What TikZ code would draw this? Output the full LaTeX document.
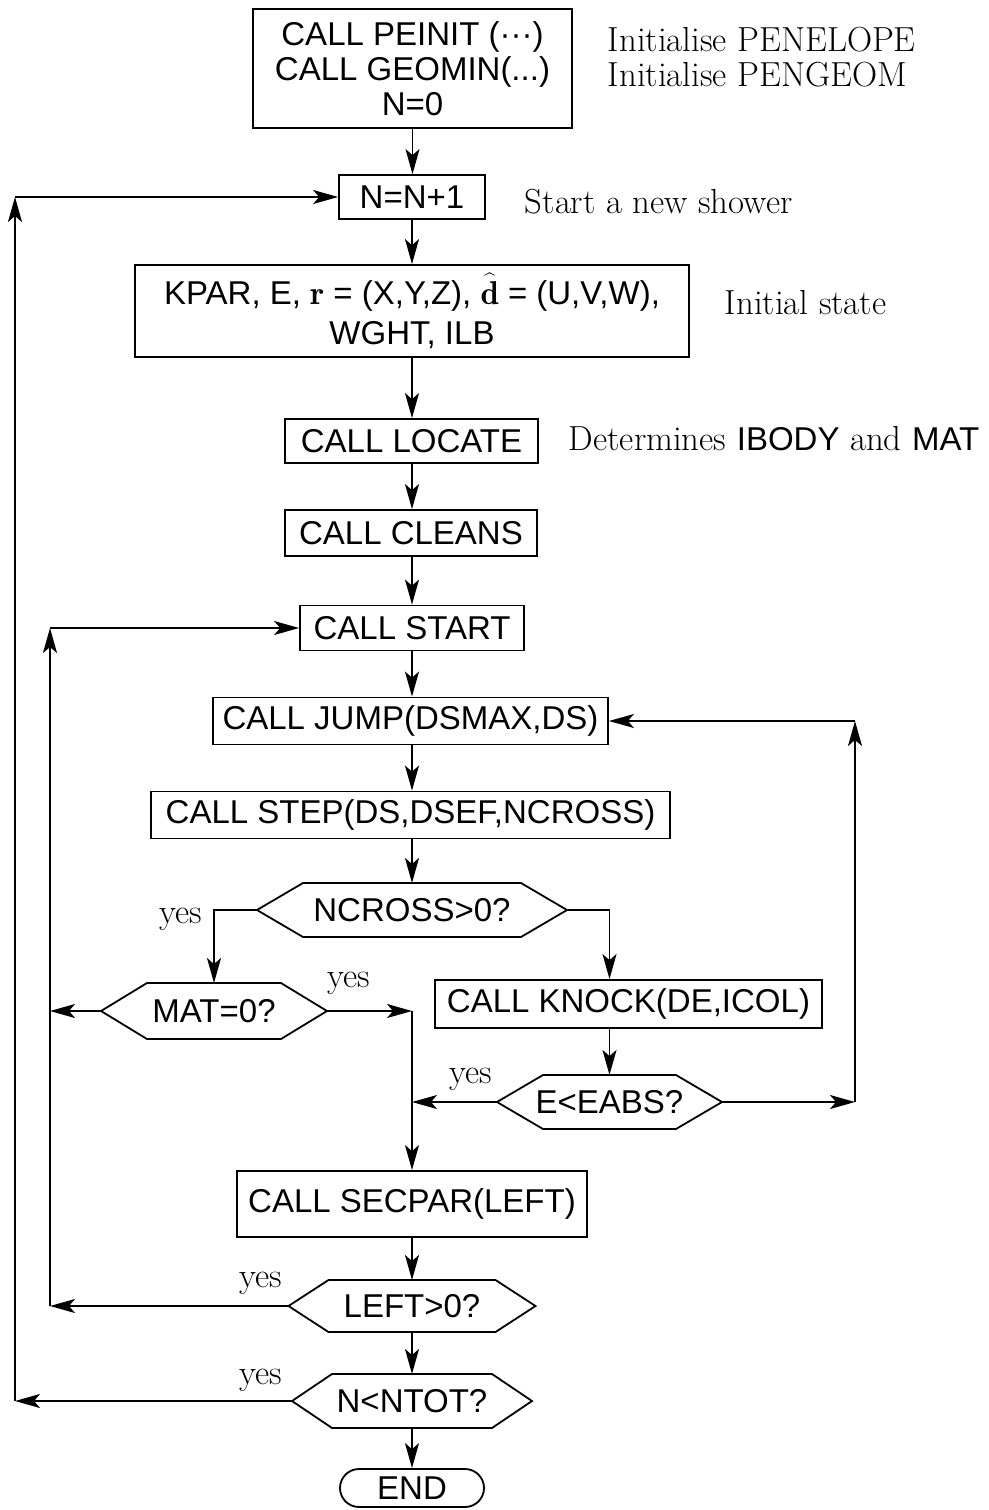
\documentclass[tikz,border=0pt]{standalone}
\usepackage{fontspec}
\newfontfamily\arialf{Liberation Sans}
\usetikzlibrary{arrows.meta,calc}
\newcommand\hexnode[6]{%
  \node[hextext] (#1) at (#2) {#6};
  \draw ($(#1)+(-#3,0)$) -- ($(#1)+(-#3+#5,-#4)$) -- ($(#1)+(#3-#5,-#4)$) --
        ($(#1)+(#3,0)$) -- ($(#1)+(#3-#5,#4)$) -- ($(#1)+(-#3+#5,#4)$) -- cycle;
  \coordinate (#1-w) at ($(#1)+(-#3,0)$);
  \coordinate (#1-e) at ($(#1)+(#3,0)$);
  \coordinate (#1-n) at ($(#1)+(0,-#4)$);
  \coordinate (#1-s) at ($(#1)+(0,#4)$);
}
\begin{document}
\begin{tikzpicture}[x=0.5pt,y=-0.5pt,
  line width=0.9pt,
  >={Stealth[length=12.5pt,width=7pt,inset=3pt]},
  box/.style={draw, inner sep=0pt, align=center, font=\arialf\fontsize{16.5}{17.5}\selectfont},
  hextext/.style={inner sep=0pt, font=\arialf\fontsize{16.5}{17.5}\selectfont},
  note/.style={inner sep=0pt, anchor=base west, font=\fontsize{17.4}{20}\selectfont},
  lbl/.style={inner sep=0pt, anchor=base, font=\fontsize{17.4}{20}\selectfont}]
\useasboundingbox (0,0) rectangle (989,1510);

% nodes
\node[box, minimum width=159.5pt, minimum height=59.5pt] (init) at (412.5,68.5)
  {CALL PEINIT (···)\\CALL GEOMIN(...)\\N=0};
\node[note] (t1) at (607,51) {Initialise PENELOPE};
\node[note] (t2) at (607,86) {Initialise PENGEOM};

\node[box, minimum width=73pt, minimum height=22pt] (n1) at (412,197) {N=N+1};
\node[note] (t3) at (524,213) {Start a new shower};

\node[box, minimum width=277pt, minimum height=46pt, font=\arialf\fontsize{16.5}{20}\selectfont] (kpar) at (412,311)
  {KPAR, E, $\mathbf{r}$ = (X,Y,Z), $\widehat{\mathbf{d}\vphantom{\rule{0pt}{13pt}}}$ = (U,V,W),\\WGHT, ILB};
\node[note] (t4) at (724,314) {Initial state};

\node[box, minimum width=126.5pt, minimum height=22pt] (locate) at (411.5,441) {CALL LOCATE};
\node[note] (t5) at (568,450) {Determines {\arialf\fontsize{16.5}{20}\selectfont IBODY} and {\arialf\fontsize{16.5}{20}\selectfont MAT}};

\node[box, minimum width=126pt, minimum height=23pt] (cleans) at (411,533) {CALL CLEANS};
\node[box, minimum width=112pt, minimum height=22.5pt] (start) at (412,628) {CALL START};
\node[box, minimum width=197.5pt, minimum height=23.5pt] (jump) at (410.5,721) {CALL JUMP(DSMAX,DS)};
\node[box, minimum width=259.5pt, minimum height=23.5pt] (step) at (410.5,815) {CALL STEP(DS,DSEF,NCROSS)};

\hexnode{ncross}{412,910}{155}{27}{46}{NCROSS>0?}
\hexnode{mat}{214,1011}{113}{28}{46}{MAT=0?}
\node[box, minimum width=193.5pt, minimum height=24pt] (knock) at (628.5,1004) {CALL KNOCK(DE,ICOL)};
\hexnode{eabs}{609.5,1102}{112.5}{27}{46}{E<EABS?}

\node[box, minimum width=175pt, minimum height=33pt] (secpar) at (412,1204) {CALL SECPAR(LEFT)};
\hexnode{left}{412,1306}{123.5}{26}{40}{LEFT>0?}
\hexnode{ntot}{412,1401}{120}{27}{40}{N<NTOT?}
\node[box, rounded corners=9.5pt, minimum width=72pt, minimum height=19pt] (end) at (412,1488) {END};

% labels
\node[lbl] (y1) at (181,923) {yes};
\node[lbl] (y2) at (349,987) {yes};
\node[lbl] (y3) at (471,1083) {yes};
\node[lbl] (y4) at (261,1287) {yes};
\node[lbl] (y5) at (261,1384) {yes};

% helper coordinates
\coordinate (lb) at (50,1306);
\coordinate (lt) at (50,628);
\coordinate (ob) at (15,1401);
\coordinate (ot) at (15,197);
\coordinate (rb) at (855,1102);
\coordinate (rt) at (855,721);
\coordinate (j1) at (412,1011);

% main chain
\draw[->] (init.south) -- (init.south |- n1.north);
\draw[->] (n1.south) -- (n1.south |- kpar.north);
\draw[->] (kpar.south) -- (kpar.south |- locate.north);
\draw[->] (kpar.south |- locate.south) -- (kpar.south |- cleans.north);
\draw[->] (kpar.south |- cleans.south) -- (kpar.south |- start.north);
\draw[->] (start.south) -- (start.south |- jump.north);
\draw[->] (start.south |- jump.south) -- (start.south |- step.north);
\draw[->] (start.south |- step.south) -- (ncross-n);
\draw[->] (ncross-w) -| (mat-n);
\draw[->] (ncross-e) -| (eabs-n |- knock.north);
\draw[->] (eabs-n |- knock.south) -- (eabs-n);
\draw[->] (mat-w) -- (mat-w -| lb);
\draw[->] (mat-e) -- (j1);
\draw[->] (j1) -- (j1 |- secpar.north);
\draw[->] (eabs-w) -- (eabs-w -| j1);
\draw[->] (eabs-e) -- (rb);
\draw[->] (rb) -- (rt);
\draw[->] (rt) -- (jump.east);
\draw[->] (secpar.south) -- (left-n);
\draw[->] (left-s) -- (ntot-n);
\draw[->] (ntot-s) -- (end.north);
\draw[->] (left-w) -- (lb);
\draw[->] (lb) -- (lt);
\draw[->] (lt) -- (start.west);
\draw[->] (ntot-w) -- (ob);
\draw[->] (ob) -- (ot);
\draw[->] (ot) -- (n1.west);
\end{tikzpicture}
\end{document}
